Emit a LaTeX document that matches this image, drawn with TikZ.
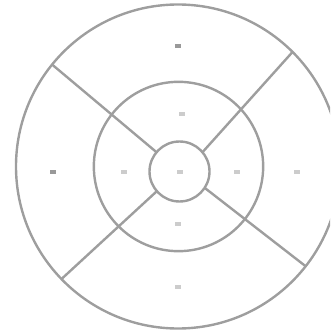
\documentclass[tikz,border=0pt]{standalone}
\usetikzlibrary{shapes, positioning}

\begin{document}
\begin{tikzpicture}[
    x=0.75pt, y=-0.75pt,
    ring/.style={circle, draw=black!38, line width=1.8pt, inner sep=0pt, outer sep=0pt},
    spoke/.style={draw=black!38, line width=1.8pt},
    dot/.style={rectangle, fill=black!40, inner sep=0pt, minimum width=4.5pt, minimum height=2.5pt},
    faint/.style={dot, fill=black!20}
]
\useasboundingbox (0,0) rectangle (333,334);
\clip (0,0) rectangle (330,334);

% --- Rings ---
\node[ring, minimum size=243pt] (outer) at (178,166.5) {};
\node[ring, minimum size=127pt] (middle) at (178.5,166.5) {};
\node[ring, minimum size=45pt] (inner) at (179.5,171.5) {};

% --- Spokes from the hub out to the rim ---
\draw[spoke] (inner.140) -- (outer.141);
\draw[spoke] (inner.40) -- (outer.45);
\draw[spoke] (inner.221) -- (outer.224);
\draw[spoke] (inner.327) -- (outer.322);

% --- Region marks ---
\node[faint] (hub) at (180,172) {};
\node[faint] (nin) at (182,114) {};
\node[dot] (nout) at (178,46) {};
\node[faint] (sin) at (178,224) {};
\node[faint] (sout) at (178,287) {};
\node[faint] (win) at (124,172) {};
\node[dot] (wout) at (53,172) {};
\node[faint] (ein) at (237,172) {};
\node[faint] (eout) at (297,172) {};

\end{tikzpicture}
\end{document}
